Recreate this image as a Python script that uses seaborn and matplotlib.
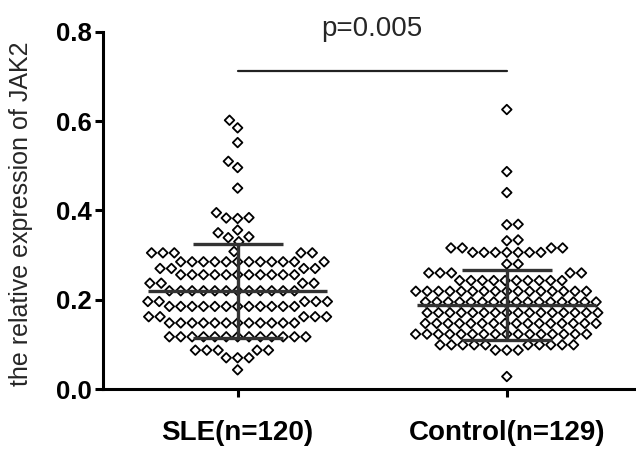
import numpy as np
import pandas as pd
import matplotlib
matplotlib.use('Agg')
import matplotlib.pyplot as plt
from matplotlib.markers import MarkerStyle
from matplotlib.transforms import Affine2D
import seaborn as sns

# ---- data (values grouped in the rows Prism drew) ----
groups = ['SLE(n=120)', 'Control(n=129)']

sle_values = [
    0.602, 0.585, 0.552, 0.510, 0.496, 0.450, 0.395, 0.384, 0.383, 0.382,
    0.356, 0.350, 0.341, 0.339, 0.330, 0.308,
    0.305, 0.305, 0.305, 0.305, 0.305,
    0.285, 0.285, 0.285, 0.285, 0.285, 0.285, 0.285, 0.285, 0.285, 0.285, 0.285, 0.285,
    0.270, 0.270, 0.270, 0.270,
    0.256, 0.256, 0.256, 0.256, 0.256, 0.256, 0.256, 0.256, 0.256, 0.256, 0.256,
    0.237, 0.237, 0.237, 0.237,
    0.220, 0.220, 0.220, 0.220, 0.220, 0.220, 0.220, 0.220, 0.220, 0.220, 0.220, 0.220,
    0.196, 0.196, 0.196, 0.196, 0.196,
    0.185, 0.185, 0.185, 0.185, 0.185, 0.185, 0.185, 0.185, 0.185, 0.185, 0.185, 0.185,
    0.162, 0.162, 0.162, 0.162, 0.162,
    0.148, 0.148, 0.148, 0.148, 0.148, 0.148, 0.148, 0.148, 0.148, 0.148, 0.148, 0.148,
    0.117, 0.117, 0.117, 0.117, 0.117, 0.117, 0.117, 0.117, 0.117, 0.117, 0.117, 0.117,
    0.117,
    0.087, 0.087, 0.087, 0.087, 0.087,
    0.070, 0.070, 0.070,
    0.043,
]

control_values = [
    0.626, 0.487, 0.440, 0.369, 0.368, 0.334, 0.332,
    0.316, 0.316, 0.316, 0.316,
    0.306, 0.306, 0.306, 0.306, 0.306, 0.306, 0.306,
    0.280, 0.280,
    0.260, 0.260, 0.260, 0.260, 0.260,
    0.243, 0.243, 0.243, 0.243, 0.243, 0.243, 0.243, 0.243, 0.243, 0.243,
    0.219, 0.219, 0.219, 0.219, 0.219, 0.219, 0.219, 0.219, 0.219, 0.219, 0.219, 0.219,
    0.219, 0.219, 0.219, 0.219,
    0.195, 0.195, 0.195, 0.195, 0.195, 0.195, 0.195, 0.195, 0.195, 0.195, 0.195, 0.195,
    0.195, 0.195, 0.195, 0.195,
    0.171, 0.171, 0.171, 0.171, 0.171, 0.171, 0.171, 0.171, 0.171, 0.171, 0.171, 0.171,
    0.171, 0.171, 0.171, 0.171,
    0.147, 0.147, 0.147, 0.147, 0.147, 0.147, 0.147, 0.147, 0.147, 0.147, 0.147, 0.147,
    0.147, 0.147, 0.147, 0.147,
    0.123, 0.123, 0.123, 0.123, 0.123, 0.123, 0.123, 0.123, 0.123, 0.123, 0.123, 0.123,
    0.123, 0.123, 0.123, 0.123,
    0.099, 0.099, 0.099, 0.099, 0.099, 0.099, 0.099, 0.099, 0.099, 0.099,
    0.087, 0.087, 0.087,
    0.028,
]

# mean and SD bars as drawn in the figure
group_means = [0.220, 0.188]
group_sds = [0.105, 0.079]

y_ticks = [0.0, 0.2, 0.4, 0.6, 0.8]
y_tick_labels = ['0.0', '0.2', '0.4', '0.6', '0.8']
p_text = 'p=0.005'
sig_y = 0.713

df = pd.DataFrame({
    'group': [groups[0]] * len(sle_values) + [groups[1]] * len(control_values),
    'value': sle_values + control_values,
})

# ---- style ----
sns.set_style('ticks')
plt.rcParams['font.family'] = ['Liberation Sans', 'DejaVu Sans']

fig = plt.figure(figsize=(6.36, 4.55), dpi=100)
ax = fig.add_axes([0.162, 0.145, 0.838, 0.785])

# open diamonds; glyph drawn a bit smaller than the swarm spacing, like Prism
diamond = MarkerStyle('D', transform=Affine2D().scale(0.75))
sns.swarmplot(data=df, x='group', y='value', order=groups, ax=ax,
              marker=diamond, size=6.5, color='white', edgecolor='black',
              linewidth=1.3, warn_thresh=1)
for coll in ax.collections:
    coll.set_facecolor('none')
    coll.set_edgecolor('black')

# mean line + SD error bars
pos = np.arange(len(groups))
bar_color = '#333333'
ax.hlines(group_means, pos - 0.333, pos + 0.333, color=bar_color, lw=2.4, zorder=5)
lo = np.array(group_means) - np.array(group_sds)
hi = np.array(group_means) + np.array(group_sds)
ax.vlines(pos, lo, hi, color=bar_color, lw=2.4, zorder=5)
ax.hlines(lo, pos - 0.167, pos + 0.167, color=bar_color, lw=2.4, zorder=5)
ax.hlines(hi, pos - 0.167, pos + 0.167, color=bar_color, lw=2.4, zorder=5)

# significance line
ax.plot([pos[0], pos[1]], [sig_y, sig_y], color='#222222', lw=1.6, clip_on=False)
ax.text(0.5, 0.806, p_text, ha='center', va='center', fontsize=20, clip_on=False)

ax.set_xlim(-0.5, 1.48)
ax.set_ylim(0, 0.8)
ax.set_yticks(y_ticks)
ax.set_yticklabels(y_tick_labels)
ax.set_xlabel('')
ax.set_ylabel('the relative expression of JAK2', fontsize=18)
ax.yaxis.set_label_coords(-0.131, 0.49)

sns.despine(ax=ax)
for side in ['left', 'bottom']:
    ax.spines[side].set_linewidth(2.2)
    ax.spines[side].set_color('black')
ax.tick_params(axis='y', length=6, width=2.2, pad=2, labelsize=18.5, colors='black')
ax.tick_params(axis='x', length=6, width=2.2, pad=16, labelsize=20, colors='black')
for lbl in ax.get_xticklabels() + ax.get_yticklabels():
    lbl.set_fontweight('bold')

fig.savefig('out.png', dpi=100)
